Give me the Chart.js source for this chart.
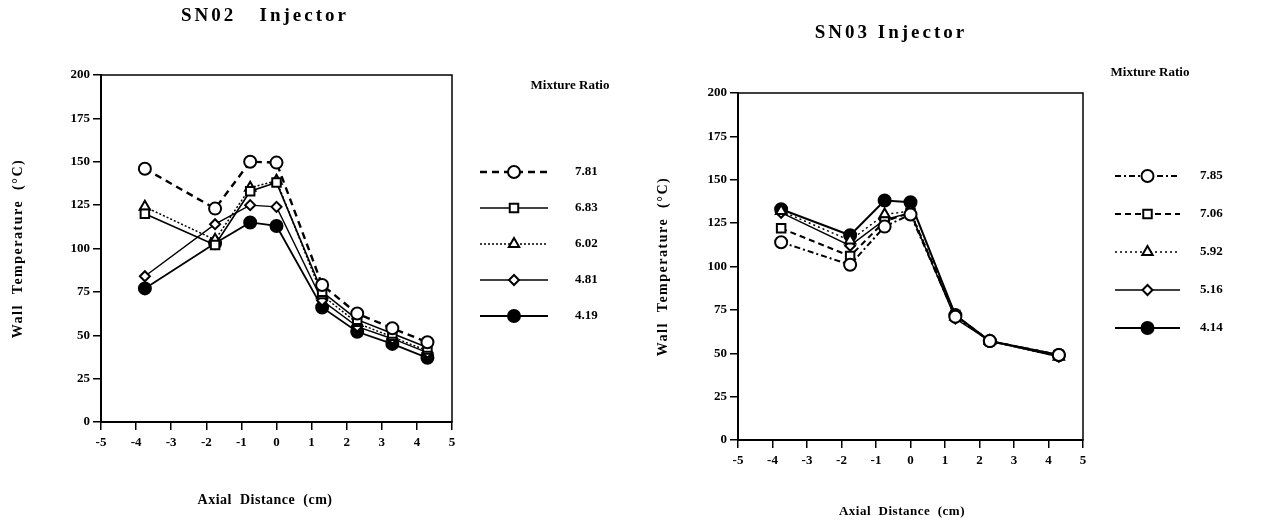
<!DOCTYPE html>
<html>
<head>
<meta charset="utf-8">
<script src="https://cdn.jsdelivr.net/npm/chart.js@4.4.1/dist/chart.umd.min.js"></script>
<style>
    html, body { margin: 0; padding: 0; background: #fff; }
    .panel { position: absolute; top: 0; width: 640px; height: 527px; }
    #panel-sn02 { left: 0; }
    #panel-sn03 { left: 638px; }
</style>
</head>
<body>
<div class="panel" id="panel-sn02"><canvas id="chartSN02" width="640" height="527"></canvas></div>
<div class="panel" id="panel-sn03"><canvas id="chartSN03" width="640" height="527"></canvas></div>
<script>
// axial positions of the thermocouples (cm)
const axialSN02 = [-3.75, -1.75, -0.75, 0, 1.3, 2.3, 3.3, 4.3];
const axialSN03 = [-3.75, -1.75, -0.75, 0, 1.3, 2.3, 4.3];

// tick values
const xTickValues = [-5, -4, -3, -2, -1, 0, 1, 2, 3, 4, 5];
const yTickValues = [0, 25, 50, 75, 100, 125, 150, 175, 200];

// SN02 injector, wall temperature (C) per mixture ratio
const ratiosSN02 = ['7.81', '6.83', '6.02', '4.81', '4.19'];
const sn02_781 = [146, 123, 150, 149.5, 79, 62.5, 54, 46];
const sn02_683 = [120, 102, 133, 138, 75, 59, 51, 43];
const sn02_602 = [124, 105, 135, 139, 73, 57, 49, 41];
const sn02_481 = [84, 114, 125, 124, 70, 55, 48, 40];
const sn02_419 = [77, 103, 115, 113, 66, 52, 45, 37];

// SN03 injector
const ratiosSN03 = ['7.85', '7.06', '5.92', '5.16', '4.14'];
const sn03_785 = [114, 101, 123, 130, 71, 57, 49];
const sn03_706 = [122, 106, 126, 131, 72, 57, 49];
const sn03_592 = [132, 115, 130, 132, 71, 57, 48];
const sn03_516 = [131, 112, 127, 131, 70, 57, 48];
const sn03_414 = [133, 118, 138, 137, 72, 57, 49];

const FONT = "'Liberation Serif', 'DejaVu Serif', serif";

function toPoints(xs, ys) {
    return xs.map((x, i) => ({ x: x, y: ys[i] }));
}

// line / marker look for one series
function series(label, xs, ys, style) {
    return {
        label: label,
        data: toPoints(xs, ys),
        borderColor: '#000',
        borderWidth: style.width,
        borderDash: style.dash,
        pointStyle: style.marker,
        pointRadius: style.radius,
        pointBorderWidth: 2,
        pointBorderColor: '#000',
        pointBackgroundColor: style.filled ? '#000' : '#fff',
        tension: 0
    };
}

// frame, titles and the mixture ratio key
const panelDecor = {
    id: 'panelDecor',
    afterDraw(chart, args, opts) {
        const ctx = chart.ctx;
        const area = chart.chartArea;
        ctx.save();

        // box round the plot
        ctx.strokeStyle = '#000';
        ctx.lineWidth = 1.5;
        ctx.strokeRect(area.left, area.top, area.right - area.left, area.bottom - area.top);

        ctx.fillStyle = '#000';
        ctx.textBaseline = 'middle';

        // chart title
        ctx.font = 'bold 19px ' + FONT;
        ctx.letterSpacing = '3px';
        ctx.textAlign = 'center';
        ctx.fillText(opts.title, opts.titleX, opts.titleY);

        // axis titles
        ctx.font = 'bold ' + opts.xTitleSize + 'px ' + FONT;
        ctx.letterSpacing = opts.xTitleSpacing;
        ctx.fillText('Axial  Distance  (cm)', opts.xTitleX, opts.xTitleY);

        ctx.save();
        ctx.font = 'bold 14px ' + FONT;
        ctx.letterSpacing = '1.5px';
        ctx.translate(opts.yTitleX, (area.top + area.bottom) / 2);
        ctx.rotate(-Math.PI / 2);
        ctx.fillText('Wall  Temperature  (°C)', 0, 0);
        ctx.restore();

        // key
        ctx.letterSpacing = '0px';
        ctx.font = 'bold 13px ' + FONT;
        ctx.fillText('Mixture Ratio', opts.keyHeadX, opts.keyHeadY);

        chart.data.datasets.forEach((ds, i) => {
            const y = opts.keyY + i * opts.keyStep;
            ctx.save();
            ctx.strokeStyle = '#000';
            ctx.lineWidth = Math.max(ds.borderWidth, 1.5);
            ctx.setLineDash(ds.borderDash || []);
            ctx.beginPath();
            ctx.moveTo(opts.keyX0, y);
            ctx.lineTo(opts.keyX1, y);
            ctx.stroke();
            ctx.setLineDash([]);
            ctx.fillStyle = ds.pointBackgroundColor;
            ctx.lineWidth = ds.pointBorderWidth;
            Chart.helpers.drawPoint(ctx, {
                pointStyle: ds.pointStyle,
                radius: ds.pointRadius,
                borderWidth: ds.pointBorderWidth,
                rotation: 0
            }, (opts.keyX0 + opts.keyX1) / 2, y);
            ctx.restore();

            ctx.textAlign = 'left';
            ctx.font = 'bold 13px ' + FONT;
            ctx.fillText(ds.label, opts.keyTextX, y);
        });

        ctx.restore();
    }
};

function makeOptions(box, decor) {
    const tickFont = { family: FONT, size: 13, weight: 'bold' };
    const grid = {
        drawOnChartArea: false,
        drawTicks: true,
        tickLength: 8,
        color: '#000',
        lineWidth: 1.5
    };
    return {
        responsive: false,
        animation: false,
        layout: { padding: { left: 0, top: box.top, right: box.right, bottom: 0 } },
        plugins: {
            legend: { display: false },
            tooltip: { enabled: false },
            panelDecor: decor
        },
        scales: {
            x: {
                type: 'linear',
                min: -5,
                max: 5,
                afterBuildTicks: s => { s.ticks = xTickValues.map(v => ({ value: v })); },
                afterFit: s => { s.height = box.xHeight; },
                grid: grid,
                border: { display: true, color: '#000', width: 2 },
                ticks: { color: '#000', font: tickFont, padding: 5, maxRotation: 0 }
            },
            y: {
                type: 'linear',
                min: 0,
                max: 200,
                afterBuildTicks: s => { s.ticks = yTickValues.map(v => ({ value: v })); },
                afterFit: s => { s.width = box.yWidth; },
                grid: grid,
                border: { display: true, color: '#000', width: 2 },
                ticks: { color: '#000', font: tickFont, padding: 3 }
            }
        }
    };
}

// SN02 chart
new Chart(document.getElementById('chartSN02').getContext('2d'), {
    type: 'line',
    data: {
        datasets: [
            series(ratiosSN02[0], axialSN02, sn02_781, { width: 2.4, dash: [7, 5], marker: 'circle', radius: 6 }),
            series(ratiosSN02[1], axialSN02, sn02_683, { width: 1.6, dash: [], marker: 'rect', radius: 6 }),
            series(ratiosSN02[2], axialSN02, sn02_602, { width: 1.5, dash: [2, 2], marker: 'triangle', radius: 6 }),
            series(ratiosSN02[3], axialSN02, sn02_481, { width: 1.4, dash: [], marker: 'rectRot', radius: 5 }),
            series(ratiosSN02[4], axialSN02, sn02_419, { width: 1.8, dash: [], marker: 'circle', radius: 6, filled: true })
        ]
    },
    options: makeOptions(
        { top: 75, right: 188, xHeight: 105, yWidth: 101 },
        {
            title: 'SN02   Injector', titleX: 265, titleY: 16,
            xTitleX: 265, xTitleY: 500, xTitleSize: 14, xTitleSpacing: '0.5px',
            yTitleX: 18,
            keyHeadX: 570, keyHeadY: 86,
            keyX0: 480, keyX1: 548, keyTextX: 575, keyY: 172, keyStep: 36
        }
    ),
    plugins: [panelDecor]
});

// SN03 chart
new Chart(document.getElementById('chartSN03').getContext('2d'), {
    type: 'line',
    data: {
        datasets: [
            series(ratiosSN03[0], axialSN03, sn03_785, { width: 2, dash: [6, 3, 2, 3], marker: 'circle', radius: 6 }),
            series(ratiosSN03[1], axialSN03, sn03_706, { width: 2, dash: [6, 4], marker: 'rect', radius: 6 }),
            series(ratiosSN03[2], axialSN03, sn03_592, { width: 1.5, dash: [2, 3], marker: 'triangle', radius: 6 }),
            series(ratiosSN03[3], axialSN03, sn03_516, { width: 1.4, dash: [], marker: 'rectRot', radius: 5 }),
            series(ratiosSN03[4], axialSN03, sn03_414, { width: 2, dash: [], marker: 'circle', radius: 6, filled: true })
        ]
    },
    options: makeOptions(
        { top: 93, right: 195, xHeight: 87, yWidth: 100 },
        {
            title: 'SN03 Injector', titleX: 253, titleY: 33,
            xTitleX: 264, xTitleY: 512, xTitleSize: 13, xTitleSpacing: '0.5px',
            yTitleX: 25,
            keyHeadX: 512, keyHeadY: 73,
            keyX0: 477, keyX1: 542, keyTextX: 562, keyY: 176, keyStep: 38
        }
    ),
    plugins: [panelDecor]
});
</script>
</body>
</html>
